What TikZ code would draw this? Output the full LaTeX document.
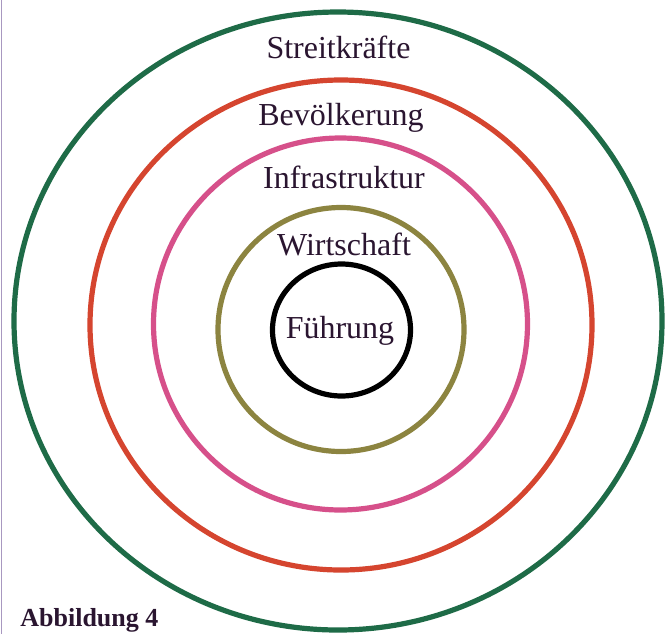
\documentclass[tikz,border=0pt]{standalone}
\usepackage{fontspec}
\setmainfont{Liberation Serif}
\definecolor{cgreen}{HTML}{1E6B47}
\definecolor{cred}{HTML}{D5452F}
\definecolor{cpink}{HTML}{D6508A}
\definecolor{colive}{HTML}{8C8440}
\definecolor{ctext}{HTML}{2A1530}
\definecolor{cedge}{HTML}{A898C0}
\begin{document}
\begin{tikzpicture}[x=0.5pt,y=-0.5pt,
  ring/.style={line width=2.6pt},
  lbl/.style={anchor=base,inner sep=0pt,text=ctext,font=\fontsize{16}{18}\selectfont}]
\useasboundingbox (0,0) rectangle (665,634);
\fill[white] (0,0) rectangle (665,634);
\draw[cedge,line width=0.8pt] (1.5,0) -- (1.5,634);
\draw[ring,cgreen] (338,321) ellipse [x radius=324, y radius=309];
\draw[ring,cred] (341,325) ellipse [x radius=251, y radius=245];
\draw[ring,cpink] (340.5,324) ellipse [x radius=187, y radius=186];
\draw[ring,colive] (341,329.5) ellipse [x radius=123, y radius=122];
\draw[ring,black] (341.5,330) ellipse [x radius=69, y radius=66];
\node[lbl] (s) at (338.5,58) {Streitkräfte};
\node[lbl] (b) at (341,125) {Bevölkerung};
\node[lbl] (i) at (344,188) {Infrastruktur};
\node[lbl] (w) at (344,255) {Wirtschaft};
\node[lbl] (f) at (340,338) {Führung};
\node[anchor=base west,inner sep=0pt,text=ctext,font=\fontsize{13}{15}\selectfont\bfseries] (a) at (20,626) {Abbildung 4};
\end{tikzpicture}
\end{document}
